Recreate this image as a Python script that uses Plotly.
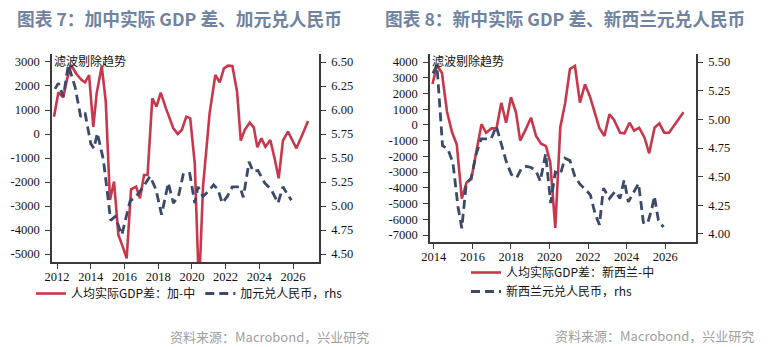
import plotly.graph_objects as go

# ---- Canada vs China ----
ca_x = [2011.82, 2012.08, 2012.37, 2012.6, 2012.83, 2013.15, 2013.46, 2013.66, 2013.9, 2014.15,
        2014.35, 2014.65, 2014.89, 2015.14, 2015.38, 2015.64, 2015.9, 2016.13, 2016.39, 2016.69,
        2016.92, 2017.16, 2017.37, 2017.65, 2017.9, 2018.15, 2018.46, 2018.7, 2018.9, 2019.16,
        2019.4, 2019.67, 2019.9, 2020.17, 2020.42, 2020.66, 2021.05, 2021.39, 2021.65, 2021.9,
        2022.14, 2022.4, 2022.68, 2022.9, 2023.13, 2023.43, 2023.67, 2023.88, 2024.12, 2024.36,
        2024.65, 2024.9, 2025.15, 2025.4, 2025.7, 2025.95, 2026.2, 2026.55, 2026.89]
ca_gdp = [720, 1736, 1528, 2300, 2875, 2500, 2250, 2150, 2458, 300,
          1694, 2833, 1350, -2750, -1985, -4210, -4700, -5180, -2306, -2194,
          -2680, -1708, -1708, 1486, 1139, 1722, 1069, 650, 236, 0,
          167, 722, 653, -1222, -6500, -2194, 861, 2458, 2153, 2736,
          2847, 2833, 1764, -278, 167, 472, 278, -556, -180, -528,
          -250, -1000, -1847, -278, 97, -250, -597, -30, 542]

cad_x = [2011.88, 2012.08, 2012.37, 2012.67, 2013.07, 2013.4, 2013.66, 2014.0, 2014.19, 2014.39,
         2014.75, 2015.18, 2015.44, 2015.84, 2016.33, 2016.69, 2017.12, 2017.52, 2017.87, 2018.2,
         2018.6, 2018.9, 2019.2, 2019.5, 2019.87, 2020.17, 2020.36, 2020.66, 2020.96, 2021.29,
         2021.55, 2021.8, 2022.1, 2022.4, 2022.63, 2022.85, 2023.05, 2023.39, 2023.63, 2023.92,
         2024.32, 2024.71, 2025.11, 2025.4, 2025.64, 2025.9]
cad_cny = [6.22, 6.28, 6.14, 6.47, 6.24, 5.93, 5.97, 5.65, 5.60, 5.76,
           5.48, 4.85, 4.89, 4.70, 5.05, 5.10, 5.20, 5.31, 5.17, 4.91,
           5.24, 5.03, 5.10, 5.34, 5.34, 5.03, 5.20, 5.10, 5.15, 5.22,
           5.17, 5.03, 5.10, 5.20, 5.20, 5.20, 5.09, 5.46, 5.36, 5.37,
           5.24, 5.17, 5.03, 5.20, 5.13, 5.06]

# ---- New Zealand vs China ----
nz_x = [2013.93, 2014.16, 2014.42, 2014.68, 2014.94, 2015.19, 2015.45, 2015.7, 2015.94, 2016.2,
        2016.47, 2016.71, 2016.99, 2017.25, 2017.5, 2017.75, 2018.0, 2018.26, 2018.48, 2018.74,
        2019.04, 2019.3, 2019.56, 2019.82, 2020.04, 2020.3, 2020.56, 2020.81, 2021.06, 2021.32,
        2021.58, 2021.84, 2022.1, 2022.36, 2022.59, 2022.85, 2023.11, 2023.35, 2023.66, 2023.89,
        2024.15, 2024.39, 2024.65, 2024.93, 2025.17, 2025.45, 2025.7, 2025.95, 2026.2, 2026.95]
nz_gdp = [2600, 3800, 3300, 850, -450, -1250, -4680, -3650, -3450, -1650,
          50, -500, -220, -220, 1410, 140, 1760, 800, -1000, -350,
          460, -700, -1200, -1350, -2400, -6550, -150, 1374, 3555, 3746,
          1413, 2582, 1794, 738, -215, -705, 675, 313, -495, -533,
          140, -367, -177, -813, -1805, -177, 103, -495, -495, 802]

nzd_x = [2013.95, 2014.16, 2014.45, 2014.73, 2014.99, 2015.25, 2015.45, 2015.68, 2015.94, 2016.2,
         2016.46, 2016.72, 2016.97, 2017.24, 2017.5, 2017.76, 2018.02, 2018.3, 2018.54, 2018.8,
         2019.05, 2019.3, 2019.52, 2019.8, 2020.06, 2020.3, 2020.56, 2020.8, 2021.06, 2021.32,
         2021.6, 2021.86, 2022.12, 2022.36, 2022.59, 2022.8, 2023.11, 2023.4, 2023.66, 2023.87,
         2024.09, 2024.35, 2024.62, 2024.87, 2025.08, 2025.31, 2025.44, 2025.65, 2025.91]
nzd_cny = [5.40, 5.47, 4.77, 4.74, 4.62, 4.24, 4.05, 4.44, 4.49, 4.70,
           4.83, 4.83, 4.83, 4.94, 4.79, 4.63, 4.52, 4.49, 4.57, 4.59,
           4.58, 4.55, 4.46, 4.70, 4.27, 4.54, 4.52, 4.66, 4.64, 4.50,
           4.43, 4.39, 4.34, 4.18, 4.08, 4.40, 4.31, 4.37, 4.31, 4.47,
           4.28, 4.36, 4.44, 4.10, 4.09, 4.22, 4.33, 4.12, 4.06]

# ---- axis ticks ----
ca_year_ticks = [2012, 2014, 2016, 2018, 2020, 2022, 2024, 2026]
ca_left_ticks = [-5000, -4000, -3000, -2000, -1000, 0, 1000, 2000, 3000]
ca_right_ticks = [4.50, 4.75, 5.00, 5.25, 5.50, 5.75, 6.00, 6.25, 6.50]
nz_year_ticks = [2014, 2016, 2018, 2020, 2022, 2024, 2026]
nz_left_ticks = [-7000, -6000, -5000, -4000, -3000, -2000, -1000, 0, 1000, 2000, 3000, 4000]
nz_right_ticks = [4.00, 4.25, 4.50, 4.75, 5.00, 5.25, 5.50]

RED = "#c8374b"
NAVY = "#3b4a68"
AXIS = "#3a3a3a"
W, H = 774, 347

CJK = "Noto Sans CJK SC"
SERIF = "Liberation Serif"


def px_x(v):
    return v / W


def px_y(v):
    return 1 - v / H


fig = go.Figure()
fig.add_trace(go.Scatter(x=ca_x, y=ca_gdp, xaxis="x", yaxis="y", mode="lines",
                         line=dict(color=RED, width=2.6), name="人均实际GDP差：加-中",
                         legend="legend"))
fig.add_trace(go.Scatter(x=cad_x, y=cad_cny, xaxis="x", yaxis="y2", mode="lines",
                         line=dict(color=NAVY, width=2.8, dash="9px,5px"),
                         name="加元兑人民币，rhs", legend="legend"))
fig.add_trace(go.Scatter(x=nz_x, y=nz_gdp, xaxis="x2", yaxis="y3", mode="lines",
                         line=dict(color=RED, width=2.6), name="人均实际GDP差：新西兰-中",
                         legend="legend2"))
fig.add_trace(go.Scatter(x=nzd_x, y=nzd_cny, xaxis="x2", yaxis="y4", mode="lines",
                         line=dict(color=NAVY, width=2.8, dash="9px,5px"),
                         name="新西兰元兑人民币，rhs", legend="legend2"))

tickfont = dict(family=SERIF, size=12.5, color="#111")
common = dict(showline=True, linecolor=AXIS, linewidth=1.5, ticks="outside", ticklen=5,
              tickwidth=1.2, tickcolor=AXIS, showgrid=False, zeroline=False, tickfont=tickfont,
              mirror=False, fixedrange=True, automargin=False)


def labels(vals, fmt):
    return [fmt.format(v) for v in vals]


fig.update_layout(
    template="none",
    width=W, height=H, autosize=False,
    margin=dict(l=0, r=0, t=0, b=0, pad=0),
    paper_bgcolor="white", plot_bgcolor="white",
    xaxis=dict(domain=[px_x(52), px_x(319)], anchor="y", range=[2011.7, 2027.54],
               tickmode="array", tickvals=ca_year_ticks, ticktext=labels(ca_year_ticks, "{}"),
               ticklabelstandoff=-3, **common),
    yaxis=dict(domain=[px_y(262), px_y(54)], anchor="x", range=[-5333, 3333],
               tickmode="array", tickvals=ca_left_ticks, ticktext=labels(ca_left_ticks, "{}"),
               ticklabelstandoff=3, **common),
    yaxis2=dict(overlaying="y", side="right", anchor="x", range=[4.4167, 6.5833],
                tickmode="array", tickvals=ca_right_ticks,
                ticktext=labels(ca_right_ticks, "{:.2f}"), ticklabelstandoff=3, **common),
    xaxis2=dict(domain=[px_x(430), px_x(696)], anchor="y3", range=[2013.8, 2027.6],
                tickmode="array", tickvals=nz_year_ticks, ticktext=labels(nz_year_ticks, "{}"),
                ticklabelstandoff=-3, **common),
    yaxis3=dict(domain=[px_y(242), px_y(54)], anchor="x2", range=[-7445, 4509],
                tickmode="array", tickvals=nz_left_ticks, ticktext=labels(nz_left_ticks, "{}"),
                ticklabelstandoff=3, **common),
    yaxis4=dict(overlaying="y3", side="right", anchor="x2", range=[3.93, 5.57],
                tickmode="array", tickvals=nz_right_ticks,
                ticktext=labels(nz_right_ticks, "{:.2f}"), ticklabelstandoff=3, **common),
    legend=dict(orientation="h", x=px_x(31), y=px_y(279), xanchor="left", yanchor="top",
                font=dict(family=CJK, size=12, color="#111"), bgcolor="rgba(0,0,0,0)",
                itemwidth=30, tracegroupgap=0),
    legend2=dict(orientation="v", x=px_x(466), y=px_y(258), xanchor="left", yanchor="top",
                 font=dict(family=CJK, size=12, color="#111"), bgcolor="rgba(0,0,0,0)",
                 itemwidth=30, tracegroupgap=0),
    showlegend=True,
)

title_font = dict(family=CJK, size=17.7, color="#7083a0", weight="bold")
note_font = dict(family=CJK, size=12, color="#111")
src_font = dict(family=CJK, size=13, color="#a0a0a0")

annotations = [
    dict(text="图表 7：加中实际 GDP 差、加元兑人民币", x=px_x(15), y=px_y(17.5),
         xanchor="left", yanchor="middle", font=title_font),
    dict(text="图表 8：新中实际 GDP 差、新西兰元兑人民币", x=px_x(383), y=px_y(17.5),
         xanchor="left", yanchor="middle", font=title_font),
    dict(text="滤波剔除趋势", x=px_x(52), y=px_y(60), xanchor="left", yanchor="middle",
         font=note_font),
    dict(text="滤波剔除趋势", x=px_x(430), y=px_y(60), xanchor="left", yanchor="middle",
         font=note_font),
    dict(text="资料来源：Macrobond，兴业研究", x=px_x(371), y=px_y(336), xanchor="right",
         yanchor="middle", font=src_font),
    dict(text="资料来源：Macrobond，兴业研究", x=px_x(756), y=px_y(335), xanchor="right",
         yanchor="middle", font=src_font),
]
for a in annotations:
    a.update(xref="paper", yref="paper", showarrow=False)
fig.update_layout(annotations=annotations)

fig.write_html("out.html")
